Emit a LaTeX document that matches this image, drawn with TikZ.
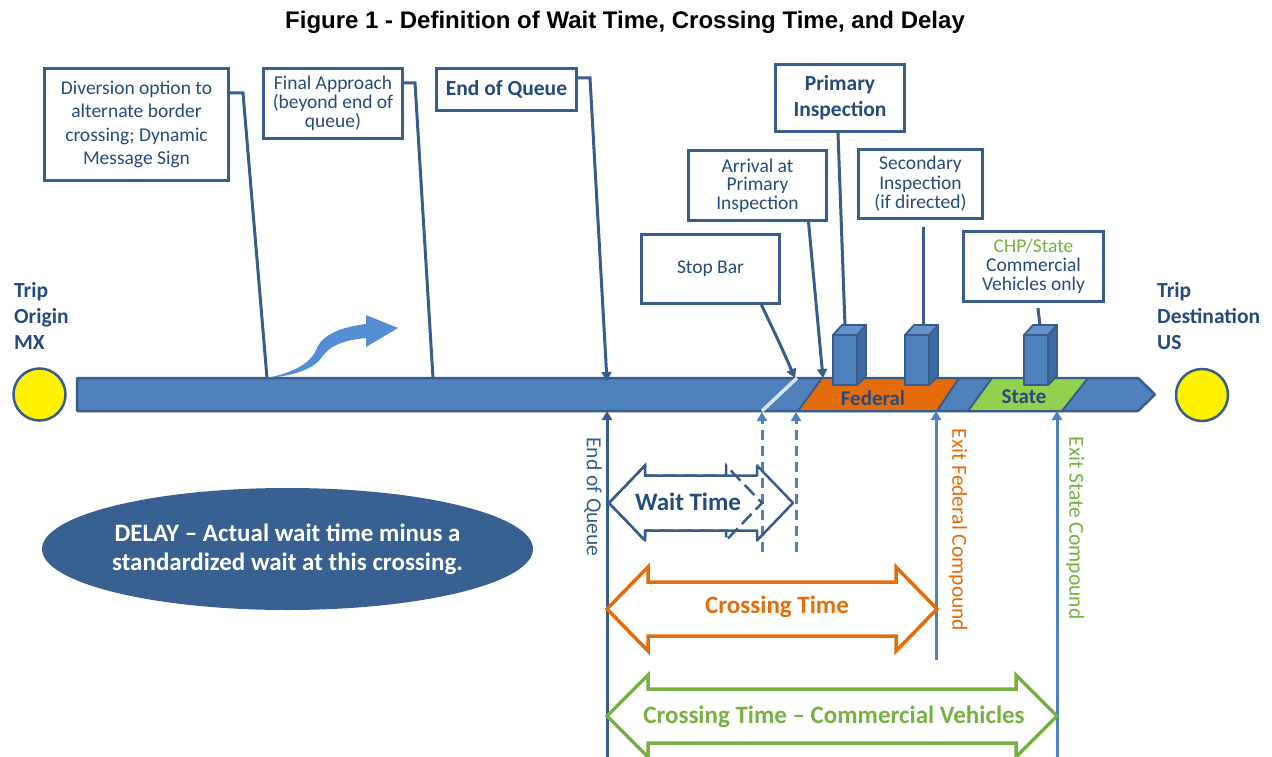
\documentclass[tikz,border=0pt]{standalone}
\usepackage{fontspec}
\setmainfont{Carlito}
\newfontfamily\titlefont{Liberation Sans}
\usetikzlibrary{arrows.meta,shapes.geometric}

\definecolor{roadblue}{HTML}{4F81BD}
\definecolor{edgeblue}{HTML}{385D8A}
\definecolor{inkblue}{HTML}{254B7E}
\definecolor{fedorange}{HTML}{E46C0A}
\definecolor{stategreen}{HTML}{92D050}
\definecolor{labelgreen}{HTML}{77B143}
\definecolor{delayblue}{HTML}{386192}
\definecolor{turnblue}{HTML}{558ED5}
\definecolor{boothside}{HTML}{3E6BA3}
\definecolor{boothtop}{HTML}{6591CB}
\definecolor{stopline}{HTML}{D9E2EC}

\newcommand\setfs[2]{\fontsize{#1}{#2}\selectfont}

% a toll booth drawn as a small box; #1 = left edge of its front face
\newcommand\tollbooth[1]{%
  \draw[boothline, fill=boothside] ({#1+24},335) -- ({#1+33},325) -- ({#1+33},376) -- ({#1+24},385) -- cycle;
  \draw[boothline, fill=boothtop] (#1,335) -- ({#1+9},325) -- ({#1+33},325) -- ({#1+24},335) -- cycle;
  \draw[boothline, fill=roadblue] (#1,335) rectangle ({#1+24},385);
}

% outline of a double-headed block arrow: left tip, right tip, centre y,
% half head height, half shaft height, head length
\newcommand\blockarrow[7]{%
  \draw[#1] (#2,#4) -- ({#2+#7},{#4-#5}) -- ({#2+#7},{#4-#6}) -- ({#3-#7},{#4-#6})
    -- ({#3-#7},{#4-#5}) -- (#3,#4) -- ({#3-#7},{#4+#5}) -- ({#3-#7},{#4+#6})
    -- ({#2+#7},{#4+#6}) -- ({#2+#7},{#4+#5}) -- cycle;
}

\begin{document}
\begin{tikzpicture}[x=1pt,y=-1pt,
  callout/.style={draw=edgeblue, line width=3pt, fill=white, text=inkblue,
                  align=center, inner sep=0pt, font=\setfs{19.5}{19}},
  leader/.style={draw=edgeblue, line width=3pt},
  tipped/.style={-{Triangle[width=10pt,length=9pt]}},
  boothline/.style={draw=edgeblue, line width=1.8pt, line join=round},
  marker/.style={line width=3pt, tipped},
  boldlabel/.style={text=inkblue, font=\bfseries\setfs{21.5}{26}, inner sep=0pt},
  sidelabel/.style={rotate=-90, font=\setfs{21.5}{26}, inner sep=0pt},
  spanlabel/.style={font=\bfseries\setfs{25}{30}, inner sep=0pt}
]
\useasboundingbox (0,0) rectangle (1272,757);

% title
\node[font=\titlefont\bfseries\setfs{24}{28}] (title) at (625,22)
  {Figure 1 - Definition of Wait Time, Crossing Time, and Delay};

% the road from origin to destination
\draw[draw=edgeblue, line width=2.5pt, fill=roadblue, rounded corners=1pt]
  (77,378) -- (1138,378) -- (1155,394.5) -- (1138,411) -- (77,411) -- cycle;
\draw[stopline, line width=3.5pt] (762,411) -- (797,378);

% federal and state compounds
\draw[draw=edgeblue, line width=2pt, fill=fedorange]
  (798,411) -- (822,378) -- (959,378) -- (937,411) -- cycle;
\draw[draw=edgeblue, line width=2pt, fill=stategreen]
  (968,411) -- (992,378) -- (1088,378) -- (1062,411) -- cycle;
\node[boldlabel, font=\bfseries\setfs{21}{26}] (fed) at (873,398) {Federal};
\node[boldlabel, font=\bfseries\setfs{21}{26}] (state) at (1024,397) {State};

% inspection booths
\tollbooth{833}
\tollbooth{905}
\tollbooth{1024}
\coordinate (booth1) at (845,326);
\coordinate (booth2) at (923,326);
\coordinate (booth3) at (1040,326);

% origin and destination
\node[circle, draw=edgeblue, line width=2.5pt, fill=yellow, minimum size=52pt] (origin) at (39.5,394.5) {};
\node[circle, draw=edgeblue, line width=2.5pt, fill=yellow, minimum size=52pt] (dest) at (1202,395) {};
\node[boldlabel, anchor=north west, align=left] (origintxt) at (14,282) {Trip\\Origin\\MX};
\node[boldlabel, anchor=north west, align=left] (desttxt) at (1157,282) {Trip\\Destination\\US};

% diversion route leaving the road
\fill[turnblue] (267,378) .. controls (295,376) and (315,368) .. (322,357)
  .. controls (330,345) and (345,340) .. (366,338) -- (366,347) -- (398,328)
  -- (366,315) -- (366,324) .. controls (342,327) and (322,334) .. (316,350)
  .. controls (310,364) and (292,373) .. (267,378) -- cycle;

% callout boxes
\node[callout, minimum width=184pt, minimum height=112pt, font=\setfs{19.5}{23.5}] (divert) at (136.5,124.5)
  {Diversion option to\\alternate border\\crossing; Dynamic\\Message Sign};
\node[callout, minimum width=139pt, minimum height=70pt] (final) at (333,103.5)
  {Final Approach\\(beyond end of\\queue)};
\node[callout, minimum width=140pt, minimum height=42pt, font=\bfseries\setfs{21.5}{26}] (eoq) at (506.5,89.5)
  {End of Queue};
\node[callout, minimum width=129pt, minimum height=67pt, font=\bfseries\setfs{21.5}{26}] (primary) at (840,98)
  {Primary\\Inspection};
\node[callout, minimum width=138pt, minimum height=70pt, font=\setfs{19.5}{18.5}] (arrival) at (757.5,185.5)
  {Arrival at\\Primary\\Inspection};
\node[callout, minimum width=138pt, minimum height=69pt] (stopbar) at (710.5,269)
  {Stop Bar};
\node[callout, minimum width=124pt, minimum height=69pt, font=\setfs{19.5}{19.5}] (secondary) at (920.5,184)
  {Secondary\\Inspection\\(if directed)};
\node[callout, minimum width=140pt, minimum height=70pt] (chp) at (1033.5,266.5)
  {{\color{labelgreen}CHP/State}\\Commercial\\Vehicles only};

% leader lines to the road
\coordinate (d1) at (267,378);
\coordinate (d2) at (433,378);
\coordinate (d3) at (607,381);
\coordinate (d5) at (823,378);
\coordinate (d6) at (795,378);
\draw[leader] ([yshift=-26pt]divert.north east) -- +(13,0) -- (d1);
\draw[leader] ([yshift=-16pt]final.north east) -- +(11,0) -- (d2);
\draw[leader, tipped] ([yshift=-11pt]eoq.north east) -- +(12,0) -- (d3);
\draw[leader] ([xshift=-2pt]primary.south) -- (booth1);
\draw[leader, tipped] ([xshift=51pt]arrival.south) -- (d5);
\draw[leader, tipped] ([xshift=51pt]stopbar.south) -- +(18,38) -- (d6);
\draw[leader] ([xshift=2.5pt,yshift=-7pt]secondary.south) -- (booth2);
\draw[leader] ([xshift=4.5pt,yshift=-5pt]chp.south) -- (booth3);

% reference lines below the road
\coordinate (q0) at (607,757);   \coordinate (q1) at (607,411);
\coordinate (s0) at (762,552);   \coordinate (s1) at (762,412);
\coordinate (a0) at (796,552);   \coordinate (a1) at (796,412);
\coordinate (f0) at (936,660);   \coordinate (f1) at (936,411);
\coordinate (t0) at (1057,757);  \coordinate (t1) at (1057,411);
\draw[marker, edgeblue] (q0) -- (q1);
\draw[marker, roadblue, dash pattern=on 10pt off 6pt] (s0) -- (s1);
\draw[marker, roadblue, dash pattern=on 10pt off 6pt] (a0) -- (a1);
\draw[marker, roadblue] (f0) -- (f1);
\draw[marker, roadblue] (t0) -- (t1);
\node[sidelabel, text=edgeblue] (eoqlabel) at (593,497) {End of Queue};
\node[sidelabel, text=fedorange] (fedlabel) at (958,530) {Exit Federal Compound};
\node[sidelabel, text=labelgreen] (statelabel) at (1075,528) {Exit State Compound};

% time spans
\blockarrow{draw=edgeblue, line width=2.5pt, line join=round}{609}{793}{503}{37.5}{27.5}{36}
\blockarrow{draw=edgeblue, line width=2.5pt, dash pattern=on 14pt off 6pt}{609}{762}{503}{37.5}{27.5}{36}
\node[spanlabel, text=inkblue] (wait) at (688,502) {Wait Time};

\blockarrow{draw=fedorange, line width=3.5pt, line join=miter}{607}{937}{609}{42}{27}{41}
\node[spanlabel, text=fedorange] (cross) at (777,607) {Crossing Time};

\blockarrow{draw=labelgreen, line width=3.5pt, line join=miter}{607}{1057}{716}{41}{27}{41}
\node[spanlabel, text=labelgreen] (crosscv) at (834,717) {Crossing Time – Commercial Vehicles};

% delay definition
\node[ellipse, fill=delayblue, minimum width=491pt, minimum height=122pt, inner sep=0pt] (delay) at (287.5,549) {};
\node[text=white, align=center, font=\bfseries\setfs{25}{29}, inner sep=0pt] (delaytxt) at (delay.center)
  {DELAY – Actual wait time minus a\\standardized wait at this crossing.};
\end{tikzpicture}
\end{document}
